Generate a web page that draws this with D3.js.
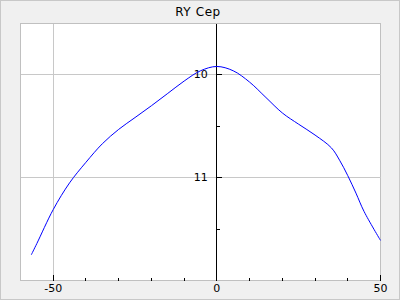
<!DOCTYPE html>
<html>
<head>
<meta charset="utf-8">
<script src="https://cdn.jsdelivr.net/npm/d3@7"></script>
<style>
  html, body { margin: 0; padding: 0; background: #f0f0f0; }
  svg { display: block; font-family: "DejaVu Sans", sans-serif; }
</style>
</head>
<body>
<svg id="chart" width="400" height="300"></svg>
<script>
// light curve of RY Cep (phase vs magnitude, y inverted)
const title = 'RY Cep';
const phase = [-56.7, -55, -50, -45, -40, -35, -30, -25, -20, -15, -10, -5, 0,
  5, 10, 15, 20, 25, 30, 35, 37.5, 40, 42.5, 45, 50];
const mag = [11.75, 11.64, 11.31, 11.05, 10.85, 10.67, 10.53, 10.415, 10.30, 10.18, 10.06, 9.96, 9.918,
  9.96, 10.07, 10.22, 10.37, 10.48, 10.585, 10.71, 10.83, 10.98, 11.15, 11.33, 11.61];
const xMajor = [-50, 0, 50];
const xMinor = [-40, -30, -20, -10, 10, 20, 30, 40];
const yMajor = [10, 11];
const yMinor = [10.5, 11.5];

const svg = d3.select('#chart');
const W = 400, H = 300;
const margin = { top: 23.5, right: 19.5, bottom: 19.5, left: 20.5 };
const px = v => Math.floor(v) + 0.5;

// outer frame
svg.append('rect').attr('x', 0.5).attr('y', 0.5).attr('width', W - 1).attr('height', H - 1)
  .attr('fill', '#f0f0f0').attr('stroke', '#c8c8c8');

const x = d3.scaleLinear().domain([-60, 50]).range([margin.left, W - margin.right]);
const y = d3.scaleLinear().domain([9.5, 12]).range([margin.top, H - margin.bottom]);

// plot area
svg.append('rect')
  .attr('x', margin.left).attr('y', margin.top)
  .attr('width', x(50) - x(-60)).attr('height', y(12) - y(9.5))
  .attr('fill', '#fff').attr('stroke', '#c0c0c0');

// grid
const grid = svg.append('g').attr('stroke', '#c8c8c8').attr('shape-rendering', 'crispEdges');
grid.selectAll('.gx').data(xMajor.filter(d => d !== 0 && d !== 50)).enter().append('line')
  .attr('x1', d => px(x(d))).attr('x2', d => px(x(d)))
  .attr('y1', y(9.5)).attr('y2', y(12));
grid.selectAll('.gy').data(yMajor).enter().append('line')
  .attr('x1', x(-60)).attr('x2', x(50))
  .attr('y1', d => px(y(d))).attr('y2', d => px(y(d)));

// vertical axis at phase 0
const x0 = px(x(0));
const axes = svg.append('g').attr('stroke', '#000').attr('shape-rendering', 'crispEdges');
axes.append('line').attr('x1', x0).attr('x2', x0).attr('y1', y(9.5)).attr('y2', y(12));
axes.selectAll('.ty').data(yMajor.concat(yMinor)).enter().append('line')
  .attr('x1', x0).attr('x2', d => x0 + (yMajor.includes(d) ? 5 : 3))
  .attr('y1', d => px(y(d))).attr('y2', d => px(y(d)));

// bottom ticks
const yb = y(12);
axes.selectAll('.tx').data(xMajor.concat(xMinor)).enter().append('line')
  .attr('x1', d => px(x(d))).attr('x2', d => px(x(d)))
  .attr('y1', yb).attr('y2', d => yb - (xMajor.includes(d) ? 6 : 3));

// labels
svg.selectAll('.lx').data(xMajor).enter().append('text')
  .attr('x', d => x(d)).attr('y', 292)
  .attr('text-anchor', 'middle').attr('font-size', 11).attr('fill', '#000')
  .text(d => d);
svg.selectAll('.ly').data(yMajor).enter().append('text')
  .attr('x', x(0) - 9).attr('y', d => px(y(d))).attr('dy', '0.33em')
  .attr('text-anchor', 'end').attr('font-size', 11).attr('fill', '#000')
  .text(d => d);

svg.append('text').attr('x', 198).attr('y', 15.5)
  .attr('text-anchor', 'middle').attr('font-size', 12).attr('letter-spacing', 0.6)
  .attr('fill', '#000').text(title);

// curve
const line = d3.line().x((d, i) => x(phase[i])).y(d => y(d)).curve(d3.curveCatmullRom.alpha(0.5));
svg.append('path').datum(mag).attr('d', line)
  .attr('fill', 'none').attr('stroke', '#0000ff').attr('stroke-width', 1);
</script>
</body>
</html>
